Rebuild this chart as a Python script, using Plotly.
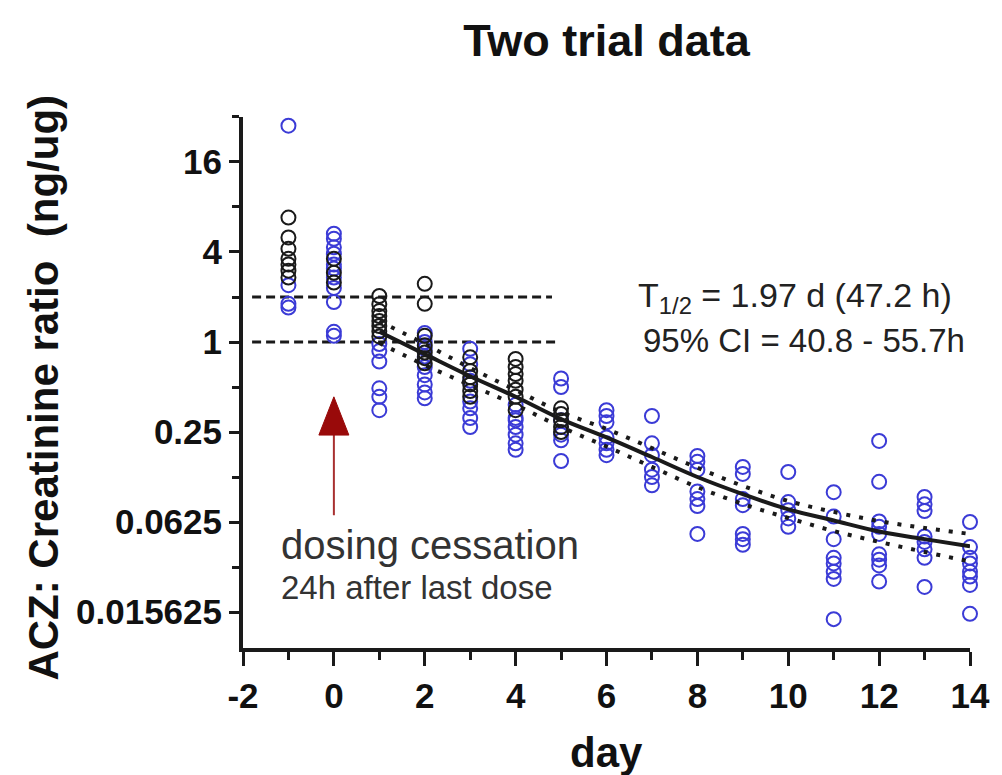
import plotly.graph_objects as go

# ---------------- data ----------------
black_days = [-1, 0, 1, 2, 3, 4, 5]
black_values = [
    [6.8, 5.0, 4.2, 3.6, 3.3, 3.0, 2.7],
    [3.6, 2.9, 2.5],
    [2.03, 1.79, 1.61, 1.49, 1.38, 1.28, 1.18, 1.09],
    [2.45, 1.8, 1.1, 0.95, 0.85, 0.78, 0.72],
    [0.79, 0.64, 0.58, 0.52, 0.47, 0.43],
    [0.77, 0.68, 0.61, 0.55, 0.48, 0.43, 0.35],
    [0.36, 0.33, 0.3, 0.27, 0.25],
]
blue_days = [-1, 0, 1, 2, 3, 4, 5, 6, 7, 8, 9, 10, 11, 12, 13, 14]
blue_values = [
    [28, 2.4, 1.8, 1.7],
    [5.3, 4.9, 4.3, 3.9, 3.3, 3.1, 2.7, 2.3, 1.85, 1.17, 1.1],
    [0.97, 0.87, 0.74, 0.49, 0.43, 0.35],
    [1.15, 1.0, 0.9, 0.8, 0.68, 0.6, 0.52, 0.46, 0.42],
    [0.9, 0.71, 0.55, 0.4, 0.36, 0.31, 0.27],
    [0.38, 0.31, 0.27, 0.24, 0.21, 0.19, 0.3],
    [0.57, 0.5, 0.3, 0.24, 0.22, 0.16],
    [0.35, 0.32, 0.29, 0.23, 0.21, 0.19, 0.175],
    [0.32, 0.21, 0.175, 0.14, 0.125, 0.11],
    [0.173, 0.158, 0.14, 0.1, 0.089, 0.08, 0.052],
    [0.146, 0.131, 0.089, 0.081, 0.052, 0.048, 0.044],
    [0.135, 0.085, 0.075, 0.066, 0.058],
    [0.099, 0.068, 0.048, 0.036, 0.033, 0.029, 0.026, 0.014],
    [0.218, 0.116, 0.063, 0.058, 0.052, 0.038, 0.035, 0.032, 0.025],
    [0.092, 0.082, 0.074, 0.05, 0.046, 0.041, 0.036, 0.023],
    [0.0625, 0.0425, 0.036, 0.033, 0.029, 0.027, 0.0237, 0.0152],
]
fit_days = [1, 2, 3, 4, 5, 6, 7, 8, 9, 10, 11, 12, 13, 14]
fit_values = [1.17, 0.83, 0.59, 0.43, 0.305, 0.23, 0.17, 0.125, 0.096, 0.076, 0.064, 0.054, 0.048, 0.043]
ci_upper = [1.38, 0.97, 0.67, 0.477, 0.34, 0.262, 0.195, 0.144, 0.109, 0.0864, 0.073, 0.0634, 0.057, 0.052]
ci_lower = [0.985, 0.70, 0.515, 0.379, 0.27, 0.2, 0.146, 0.107, 0.0825, 0.0665, 0.0544, 0.046, 0.0394, 0.034]
ref_levels = [2, 1]
ref_start = -1.8
ref_ends = [4.8, 4.9]

y_tick_vals = [16, 4, 1, 0.25, 0.0625, 0.015625]
y_tick_text = ["16", "4", "1", "0.25", "0.0625", "0.015625"]
y_minor_vals = [32, 8, 2, 0.5, 0.125, 0.03125]
x_tick_vals = [-2, 0, 2, 4, 6, 8, 10, 12, 14]

BLUE = "#3b3bd6"
BLACK = "#1a1a1a"


def flatten(days, values):
    xs, ys = [], []
    for d, vals in zip(days, values):
        for v in vals:
            xs.append(d)
            ys.append(v)
    return xs, ys


bx, by = flatten(blue_days, blue_values)
kx, ky = flatten(black_days, black_values)

fig = go.Figure()

for lvl, end in zip(ref_levels, ref_ends):
    fig.add_trace(go.Scatter(x=[ref_start, end], y=[lvl, lvl], mode="lines",
                             line=dict(color=BLACK, width=3, dash="9px,5px"),
                             hoverinfo="skip", showlegend=False))

fig.add_trace(go.Scatter(x=bx, y=by, mode="markers", cliponaxis=False,
                         marker=dict(symbol="circle-open", size=14, color=BLUE,
                                     line=dict(width=2)),
                         showlegend=False))
fig.add_trace(go.Scatter(x=kx, y=ky, mode="markers", cliponaxis=False,
                         marker=dict(symbol="circle-open", size=14, color=BLACK,
                                     line=dict(width=2)),
                         showlegend=False))

for band in (ci_upper, ci_lower):
    fig.add_trace(go.Scatter(x=fit_days, y=band, mode="lines", line_shape="spline",
                             line=dict(color=BLACK, width=4, dash="4px,9px"),
                             showlegend=False, hoverinfo="skip"))
fig.add_trace(go.Scatter(x=fit_days, y=fit_values, mode="lines", line_shape="spline",
                         line=dict(color=BLACK, width=4), showlegend=False))

# arrow (dosing cessation)
fig.add_shape(type="line", xref="x", yref="paper", x0=0, x1=0, y0=0.25, y1=0.405,
              line=dict(color="#a83030", width=2))
fig.add_shape(type="path", xref="x", yref="paper",
              path="M -0.33,0.401 L 0.33,0.401 L 0,0.473 Z",
              fillcolor="#990a0a", line=dict(color="#990a0a", width=1))

ann_font = "Liberation Sans, Arial, sans-serif"
fig.add_annotation(xref="paper", yref="paper", x=0.05, y=0.194, xanchor="left", yanchor="middle",
                   text="dosing cessation", showarrow=False,
                   font=dict(family=ann_font, size=40, color="#333333"))
fig.add_annotation(xref="paper", yref="paper", x=0.05, y=0.113, xanchor="left", yanchor="middle",
                   text="24h after last dose", showarrow=False,
                   font=dict(family=ann_font, size=33, color="#333333"))
fig.add_annotation(xref="paper", yref="paper", x=0.541, y=0.661, xanchor="left", yanchor="middle",
                   text="T<sub>1/2</sub> = 1.97 d (47.2 h)", showarrow=False,
                   font=dict(family=ann_font, size=34, color="#222222"))
fig.add_annotation(xref="paper", yref="paper", x=0.548, y=0.58, xanchor="left", yanchor="middle",
                   text="95% CI = 40.8 - 55.7h", showarrow=False,
                   font=dict(family=ann_font, size=33, color="#222222"))

# axis titles
title_font = dict(family="Liberation Sans, Arial, sans-serif", size=42, color="#111111")
fig.add_annotation(xref="paper", yref="paper", x=-0.274, y=0.49, xanchor="center", yanchor="middle",
                   textangle=-90, showarrow=False,
                   text="<b>ACZ: Creatinine ratio\u00a0\u00a0(ng/ug)</b>", font=title_font)
fig.add_annotation(xref="paper", yref="paper", x=0.5, y=-0.196, xanchor="center", yanchor="middle",
                   showarrow=False, text="<b>day</b>", font=title_font)

tick_font = dict(family="Liberation Sans, Arial, sans-serif", size=35, color="#111111")

fig.update_layout(
    width=1002, height=775,
    margin=dict(l=243, r=25, t=117, b=127),
    paper_bgcolor="white", plot_bgcolor="white",
    title=dict(text="<b>Two trial data</b>", x=0.5, xref="paper", y=0.948, yref="container",
               xanchor="center", yanchor="middle",
               font=dict(family="Liberation Sans, Arial, sans-serif", size=45, color="#111111")),
    xaxis=dict(range=[-2, 14], tickmode="array", tickvals=x_tick_vals,
               ticktext=["<b>%d</b>" % v for v in x_tick_vals],
               showline=True, linewidth=4, linecolor=BLACK, mirror=False,
               ticks="outside", ticklen=14, tickwidth=3, tickcolor=BLACK,
               minor=dict(dtick=1, tick0=-2, ticks="outside", ticklen=8, tickwidth=3, tickcolor=BLACK),
               showgrid=False, zeroline=False, tickfont=tick_font),
    yaxis=dict(type="log", range=[-2.047, 1.5051], tickmode="array", tickvals=y_tick_vals,
               ticktext=["<b>%s</b>" % t for t in y_tick_text],
               showline=True, linewidth=4, linecolor=BLACK,
               ticks="outside", ticklen=10, tickwidth=3, tickcolor=BLACK,
               minor=dict(tickmode="array", tickvals=y_minor_vals, ticks="outside",
                          ticklen=7, tickwidth=3, tickcolor=BLACK),
               showgrid=False, zeroline=False, tickfont=tick_font),
)

fig.write_html("out.html")
